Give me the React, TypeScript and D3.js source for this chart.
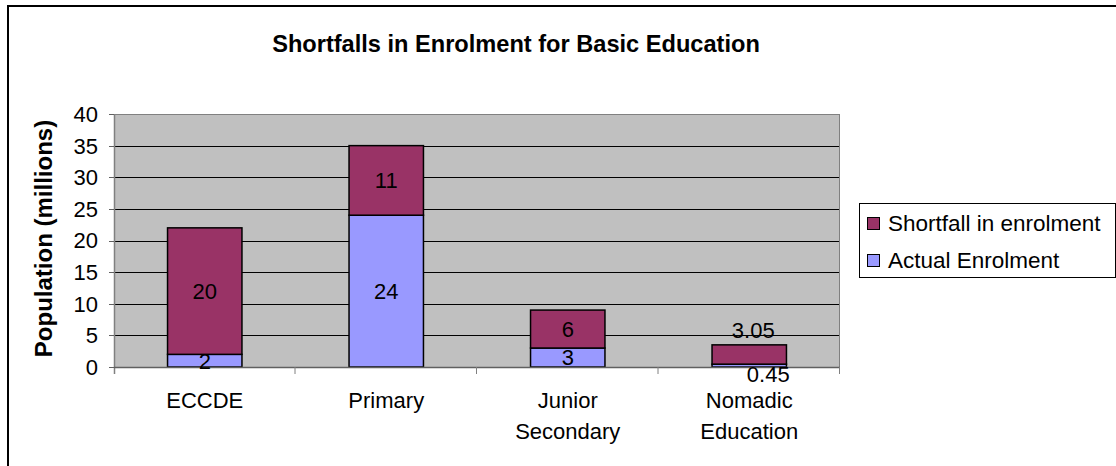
import React from "react";
import * as d3 from "d3";

const categories: string[][] = [["ECCDE"], ["Primary"], ["Junior", "Secondary"], ["Nomadic", "Education"]];
const actualEnrolment: number[] = [2, 24, 3, 0.45];
const shortfall: number[] = [20, 11, 6, 3.05];
const actualLabels: string[] = ["2", "24", "3", "0.45"];
const shortfallLabels: string[] = ["20", "11", "6", "3.05"];
const yTicks: number[] = [0, 5, 10, 15, 20, 25, 30, 35, 40];
const seriesNames: string[] = ["Shortfall in enrolment", "Actual Enrolment"];
const seriesColors: string[] = ["#993366", "#9999FF"];

const W = 1116;
const H = 466;
const plot = { left: 114, right: 840, top: 114, bottom: 367 };
const FONT = "'Liberation Sans', Arial, sans-serif";

export default function App() {
  const keys = categories.map((c) => c.join(" "));
  const x = d3.scaleBand<string>().domain(keys).range([plot.left, plot.right]).paddingInner(0.59).paddingOuter(0.295);
  const y = d3.scaleLinear().domain([0, 40]).range([plot.bottom, plot.top]);
  const step = x.step();
  const fs = 22;

  return (
    <svg width={W} height={H} style={{ position: "absolute", left: 0, top: 0, background: "#fff" }} fontFamily={FONT}>
      <rect x={8} y={6} width={1300} height={700} fill="#fff" stroke="#000" strokeWidth={2} />
      <text x={516} y={52} textAnchor="middle" fontSize={23.6} fontWeight="bold">
        Shortfalls in Enrolment for Basic Education
      </text>
      {/* plot area */}
      <rect x={plot.left} y={plot.top} width={plot.right - plot.left} height={plot.bottom - plot.top} fill="#C0C0C0" />
      {yTicks.filter((t) => t > 0 && t < 40).map((t) => (
        <line key={t} x1={plot.left} x2={plot.right} y1={Math.round(y(t)) + 0.5} y2={Math.round(y(t)) + 0.5} stroke="#000" strokeWidth={1} />
      ))}
      <line x1={plot.left} x2={plot.right} y1={plot.top + 0.5} y2={plot.top + 0.5} stroke="#808080" />
      <line x1={plot.right - 0.5} x2={plot.right - 0.5} y1={plot.top} y2={plot.bottom} stroke="#808080" />
      {/* bars */}
      {keys.map((k, i) => {
        const bx = x(k)!;
        const bw = x.bandwidth();
        const a = actualEnrolment[i];
        const s = shortfall[i];
        return (
          <g key={k}>
            <rect x={bx} y={y(a)} width={bw} height={y(0) - y(a)} fill={seriesColors[1]} stroke="#000" strokeWidth={1.5} />
            <rect x={bx} y={y(a + s)} width={bw} height={y(a) - y(a + s)} fill={seriesColors[0]} stroke="#000" strokeWidth={1.5} />
          </g>
        );
      })}
      {/* axes */}
      <line x1={plot.left + 0.5} x2={plot.left + 0.5} y1={plot.top} y2={plot.bottom + 7} stroke="#808080" strokeWidth={1.5} />
      <line x1={plot.left} x2={plot.right} y1={plot.bottom + 0.5} y2={plot.bottom + 0.5} stroke="#606060" strokeWidth={1.5} />
      {yTicks.map((t) => (
        <g key={t}>
          <line x1={plot.left - 5} x2={plot.left} y1={Math.round(y(t)) + 0.5} y2={Math.round(y(t)) + 0.5} stroke="#606060" />
          <text x={98} y={y(t)} dy="0.36em" textAnchor="end" fontSize={fs}>{t}</text>
        </g>
      ))}
      {keys.map((k, i) => (
        <line key={"t" + k} x1={plot.left + step * (i + 1) - 0.5} x2={plot.left + step * (i + 1) - 0.5} y1={plot.bottom} y2={plot.bottom + 7} stroke="#808080" />
      ))}
      {categories.map((lines, i) => (
        <text key={"c" + i} x={x(keys[i])! + x.bandwidth() / 2} y={400} textAnchor="middle" fontSize={fs}>
          {lines.map((ln, j) => (
            <tspan key={j} x={x(keys[i])! + x.bandwidth() / 2} y={400 + j * 31} dy="0.36em">{ln}</tspan>
          ))}
        </text>
      ))}
      {/* data labels */}
      {keys.map((k, i) => {
        const cx = x(k)! + x.bandwidth() / 2;
        const a = actualEnrolment[i];
        const s = shortfall[i];
        const small = y(a) - y(a + s) < 20;
        const sy = small ? y(a + s) - 15 : y(a + s / 2);
        const sx = small ? cx + 4 : cx;
        const ay = small ? y(0) + 7 : y(a / 2);
        const ax = small ? cx + 19 : cx;
        return (
          <g key={"l" + k} fontSize={fs}>
            <text x={sx} y={sy} dy="0.36em" textAnchor="middle">{shortfallLabels[i]}</text>
            <text x={ax} y={ay} dy="0.36em" textAnchor="middle">{actualLabels[i]}</text>
          </g>
        );
      })}
      {/* y title */}
      <text transform={`translate(52,${238.5}) rotate(-90)`} textAnchor="middle" fontSize={24} fontWeight="bold">
        Population (millions)
      </text>
      {/* legend */}
      <rect x={859.5} y={203.5} width={256} height={74} fill="#fff" stroke="#000" strokeWidth={1} />
      {seriesNames.map((n, i) => (
        <g key={n}>
          <rect x={867.5} y={217.5 + i * 37} width={12} height={12} fill={seriesColors[i]} stroke="#000" strokeWidth={1} />
          <text x={888} y={223 + i * 37} dy="0.36em" fontSize={22.5}>{n}</text>
        </g>
      ))}
    </svg>
  );
}
